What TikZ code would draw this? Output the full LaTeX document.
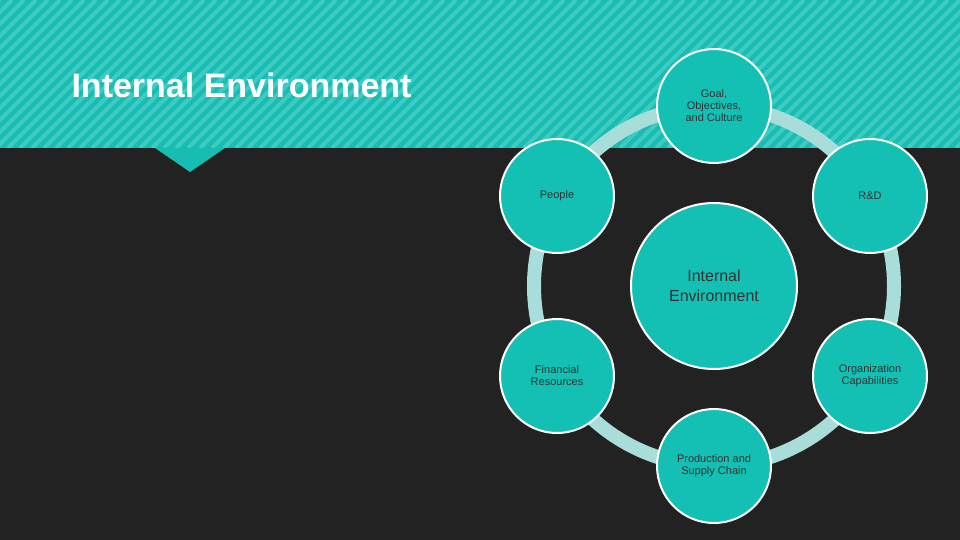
\documentclass[tikz,border=0pt]{standalone}
\usepackage{fontspec}
\setmainfont{Liberation Sans}
\definecolor{bg}{HTML}{222222}
\definecolor{band}{HTML}{17BDB2}
\definecolor{stripe}{HTML}{3ECBC1}
\definecolor{ring}{HTML}{A8DDD9}
\definecolor{fillc}{HTML}{14BFB3}
\definecolor{txt}{HTML}{333333}
\begin{document}
\begin{tikzpicture}[x=1pt,y=-1pt,
  outer/.style={circle,draw=white,line width=2pt,fill=fillc,minimum size=114pt,inner sep=0pt,align=center,text=txt,font=\fontsize{11}{12}\selectfont},
  center/.style={circle,draw=white,line width=2pt,fill=fillc,minimum size=166pt,inner sep=0pt,align=center,text=txt,font=\fontsize{16}{20}\selectfont}]
\useasboundingbox (0,0) rectangle (960,540);
\fill[bg] (0,0) rectangle (960,540);
\fill[band] (0,0) rectangle (960,148);
\begin{scope}
\clip (0,0) rectangle (960,148);
\foreach \i in {-160,-148,...,960} \draw[stripe,line width=4pt] (\i,148) -- (\i+148,0);
\end{scope}
\fill[band] (155,148) -- (225,148) -- (190,172) -- cycle;
\node[anchor=west,text=white,font=\bfseries\fontsize{34}{40}\selectfont] (title) at (68,85) {Internal Environment};
\draw[ring,line width=14pt] (714,286) circle (180);
\node[center] (c) at (714,286) {Internal\\Environment};
\node[outer] (g) at (714,106) {Goal,\\Objectives,\\and Culture};
\node[outer] (p) at (557,196) {People};
\node[outer] (r) at (870,196) {R\&D};
\node[outer] (f) at (557,376) {Financial\\Resources};
\node[outer] (o) at (870,376) {Organization\\Capabilities};
\node[outer] (s) at (714,466) {Production and\\Supply Chain};
\end{tikzpicture}
\end{document}
